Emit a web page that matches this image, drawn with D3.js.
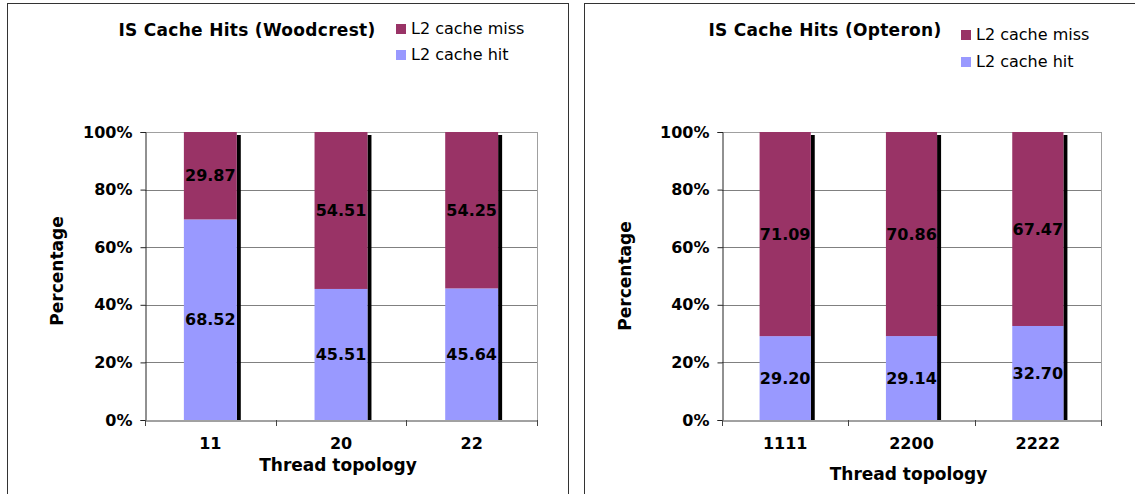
<!DOCTYPE html>
<html>
<head>
<meta charset="utf-8">
<script src="https://cdn.jsdelivr.net/npm/d3@7"></script>
<style>
  html, body { margin: 0; padding: 0; background: #fff; }
  svg { display: block; }
  text { font-family: "DejaVu Sans", Verdana, sans-serif; fill: #000; }
</style>
</head>
<body>
<svg id="chart" width="1135" height="494"></svg>
<script>
// ---- data ----
const seriesNames = ["L2 cache miss", "L2 cache hit"];
const woodcrestCategories = ["11", "20", "22"];
const woodcrestHit = [68.52, 45.51, 45.64];
const woodcrestMiss = [29.87, 54.51, 54.25];
const opteronCategories = ["1111", "2200", "2222"];
const opteronHit = [29.20, 29.14, 32.70];
const opteronMiss = [71.09, 70.86, 67.47];
const yTicks = [0, 0.2, 0.4, 0.6, 0.8, 1.0];
const titles = ["IS Cache Hits (Woodcrest)", "IS Cache Hits (Opteron)"];
const xTitle = "Thread topology";
const yTitle = "Percentage";

const colors = { miss: "#993366", hit: "#9999FF" };
const svg = d3.select("#chart");

function drawPanel(cfg) {
  const g = svg.append("g");
  // panel frame
  g.append("rect").attr("x", cfg.frame[0] + 0.5).attr("y", 3.5)
    .attr("width", cfg.frame[1] - cfg.frame[0]).attr("height", 600)
    .attr("fill", "#fff").attr("stroke", "#333").attr("stroke-width", 1);

  const x = d3.scaleBand().domain(cfg.cats).range([cfg.x0, cfg.x1]).paddingInner(0).paddingOuter(0);
  const y = d3.scaleLinear().domain([0, 1]).range([cfg.y1, cfg.y0]);
  const bw = x.bandwidth() * 0.405;

  // gridlines
  g.append("g").selectAll("line").data(yTicks.filter(t => t > 0)).join("line")
    .attr("x1", cfg.x0).attr("x2", cfg.x1)
    .attr("y1", d => Math.round(y(d)) + 0.5).attr("y2", d => Math.round(y(d)) + 0.5)
    .attr("stroke", d => d === 1 ? "#a0a0a0" : "#808080").attr("stroke-width", 1);
  // right border of plot
  g.append("line").attr("x1", cfg.x1 + 0.5).attr("x2", cfg.x1 + 0.5)
    .attr("y1", cfg.y0).attr("y2", cfg.y1 + 6).attr("stroke", "#a0a0a0");

  const rows = cfg.cats.map((c, i) => {
    const tot = cfg.hit[i] + cfg.miss[i];
    return { cat: c, hit: cfg.hit[i], miss: cfg.miss[i], hf: cfg.hit[i] / tot };
  });

  const bars = g.append("g").selectAll("g").data(rows).join("g");
  // shadow
  bars.append("rect")
    .attr("x", d => x(d.cat) + (x.bandwidth() - bw) / 2 + bw)
    .attr("y", y(1) + 3).attr("width", 4).attr("height", cfg.y1 - y(1) - 3)
    .attr("fill", "#000");
  bars.append("rect")
    .attr("x", d => x(d.cat) + (x.bandwidth() - bw) / 2)
    .attr("y", d => y(d.hf)).attr("width", bw).attr("height", d => cfg.y1 - y(d.hf))
    .attr("fill", colors.hit);
  bars.append("rect")
    .attr("x", d => x(d.cat) + (x.bandwidth() - bw) / 2)
    .attr("y", y(1)).attr("width", bw).attr("height", d => y(d.hf) - y(1))
    .attr("fill", colors.miss);
  // labels
  bars.append("text")
    .attr("x", d => x(d.cat) + x.bandwidth() / 2)
    .attr("y", d => (y(1) + y(d.hf)) / 2).attr("dy", "0.36em")
    .attr("text-anchor", "middle").attr("font-weight", "bold").attr("font-size", 16)
    .text(d => d.miss.toFixed(2));
  bars.append("text")
    .attr("x", d => x(d.cat) + x.bandwidth() / 2)
    .attr("y", d => (cfg.y1 + y(d.hf)) / 2).attr("dy", "0.36em")
    .attr("text-anchor", "middle").attr("font-weight", "bold").attr("font-size", 16)
    .text(d => d.hit.toFixed(2));

  // y axis
  const ya = g.append("g").attr("transform", `translate(${cfg.x0 + 0.5},0)`)
    .call(d3.axisLeft(y).tickValues(yTicks).tickFormat(d3.format(".0%")).tickSize(5).tickPadding(8));
  ya.select(".domain").attr("stroke", "#222");
  ya.selectAll(".tick line").attr("stroke", "#222");
  ya.selectAll("text").attr("font-size", 16).attr("font-weight", "bold")
    .attr("font-family", "'DejaVu Sans', Verdana, sans-serif");

  // x axis
  const xa = g.append("g").attr("transform", `translate(0,${cfg.y1 + 0.5})`)
    .call(d3.axisBottom(x).tickSize(0).tickPadding(cfg.xPad));
  xa.select(".domain").attr("stroke", "#444");
  xa.selectAll("text").attr("font-size", 16).attr("font-weight", "bold")
    .attr("font-family", "'DejaVu Sans', Verdana, sans-serif");
  // boundary ticks
  g.append("g").selectAll("line").data(cfg.cats.map(c => x(c)).concat([cfg.x1])).join("line")
    .attr("x1", d => Math.round(d) + 0.5).attr("x2", d => Math.round(d) + 0.5)
    .attr("y1", cfg.y1).attr("y2", cfg.y1 + 6).attr("stroke", "#444");

  // axis titles
  g.append("text").attr("x", (cfg.x0 + cfg.x1) / 2 - 3).attr("y", cfg.xTitleY)
    .attr("text-anchor", "middle").attr("font-weight", "bold").attr("font-size", 17)
    .text(xTitle);
  g.append("text").attr("transform", `translate(${cfg.yTitleX},${cfg.yTitleY}) rotate(-90)`)
    .attr("text-anchor", "middle").attr("font-weight", "bold").attr("font-size", 17)
    .text(yTitle);

  // title
  g.append("text").attr("x", cfg.titleX).attr("y", 36)
    .attr("text-anchor", "middle").attr("font-weight", "bold").attr("font-size", 17)
    .attr("letter-spacing", 0.3)
    .text(cfg.title);

  // legend
  const leg = g.append("g").selectAll("g").data(seriesNames).join("g")
    .attr("transform", (d, i) => `translate(${cfg.legX},${cfg.legY + i * cfg.legStep})`);
  leg.append("rect").attr("x", 0).attr("y", -10).attr("width", 10).attr("height", 10)
    .attr("fill", (d, i) => i === 0 ? colors.miss : colors.hit);
  leg.append("text").attr("x", 15).attr("y", 0).attr("font-size", 16).text(d => d);
}

drawPanel({
  frame: [7, 568], cats: woodcrestCategories, hit: woodcrestHit, miss: woodcrestMiss,
  x0: 145, x1: 537, y0: 132, y1: 420, xPad: 17, xTitleY: 471,
  yTitleX: 63, yTitleY: 271, title: titles[0], titleX: 247,
  legX: 396, legY: 34, legStep: 26
});
drawPanel({
  frame: [584, 1200], cats: opteronCategories, hit: opteronHit, miss: opteronMiss,
  x0: 722, x1: 1101, y0: 132, y1: 420, xPad: 17, xTitleY: 480,
  yTitleX: 631, yTitleY: 276, title: titles[1], titleX: 825,
  legX: 961, legY: 40, legStep: 27
});
</script>
</body>
</html>
